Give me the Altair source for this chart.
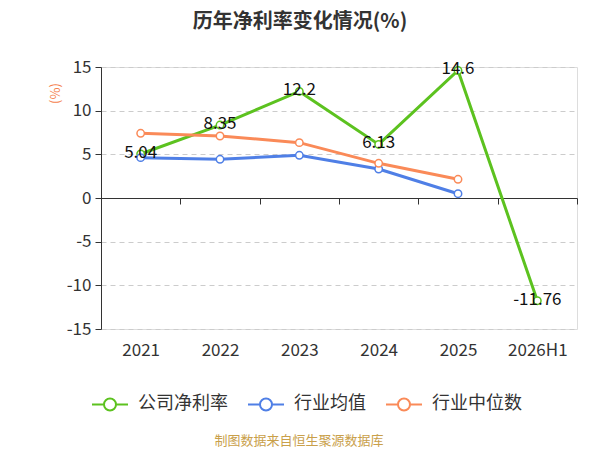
import altair as alt
import pandas as pd

years = ["2021", "2022", "2023", "2024", "2025", "2026H1"]
company = [5.04, 8.35, 12.2, 6.13, 14.6, -11.76]
company_labels = ["5.04", "8.35", "12.2", "6.13", "14.6", "-11.76"]
ind_avg = [4.62, 4.43, 4.89, 3.32, 0.49, None]
ind_median = [7.41, 7.10, 6.34, 3.97, 2.14, None]

series_names = ["公司净利率", "行业均值", "行业中位数"]
series_colors = ["#5cc21f", "#4f7fe6", "#fa8a58"]

rows = []
for name, vals in zip(series_names, [company, ind_avg, ind_median]):
    for i, (y, v) in enumerate(zip(years, vals)):
        if v is not None:
            rows.append({"year": y, "series": name, "value": v, "order": i})
df = pd.DataFrame(rows)
lab_df = pd.DataFrame({"year": years, "value": company, "label": company_labels})

FONT = "Noto Sans CJK SC"

x_enc = alt.X(
    "year:N",
    sort=years,
    scale=alt.Scale(type="band", domain=years, paddingInner=0, paddingOuter=0),
    axis=alt.Axis(
        title=None,
        orient="bottom",
        offset=-131,
        domainColor="#333333",
        tickColor="#333333",
        tickSize=6,
        tickBand="extent",
        labelPadding=138,
        labelFontSize=17,
        labelColor="#333333",
        labelFont=FONT,
        labelAngle=0,
        grid=False,
    ),
)

y_enc = alt.Y(
    "value:Q",
    scale=alt.Scale(domain=[-15, 15], nice=False, zero=False),
    axis=alt.Axis(
        values=[-15, -10, -5, 0, 5, 10, 15],
        labelExpr="datum.value + ''",
        title="(%)",
        titleColor="#f5814e",
        titleFontSize=13,
        titleFontWeight="normal",
        titleFont=FONT,
        titleX=-46,
        titleY=26,
        titleAlign="center",
        titleBaseline="middle",
        labelFontSize=17,
        labelColor="#333333",
        labelFont=FONT,
        labelPadding=4,
        tickSize=6,
        tickColor="#333333",
        domainColor="#333333",
        grid=True,
        gridColor="#cccccc",
        gridDash=[5, 4],
        gridWidth=1,
    ),
)

legend_path = "M-1,0L0.333,0M1.667,0L3,0M1.667,0A0.667,0.667,0,1,1,0.333,0A0.667,0.667,0,1,1,1.667,0"

color_enc = alt.Color(
    "series:N",
    scale=alt.Scale(domain=series_names, range=series_colors),
    legend=alt.Legend(
        title=None,
        orient="none",
        direction="horizontal",
        legendX=-10,
        legendY=327,
        symbolType=legend_path,
        symbolSize=324,
        symbolStrokeWidth=2,
        symbolFillColor="white",
        labelOffset=27,
        labelFontSize=18,
        labelFont=FONT,
        labelColor="#333333",
        columnPadding=16,
        padding=0,
    ),
)

lines = alt.Chart(df).mark_line(
    strokeWidth=3,
    point=alt.OverlayMarkDef(filled=False, fill="white", size=55, strokeWidth=1.5),
).encode(
    x=x_enc,
    y=y_enc,
    color=color_enc,
    order="order:Q",
)

labels = alt.Chart(lab_df).mark_text(
    fontSize=17, font=FONT, color="#111111", align="center", baseline="middle", dy=-1
).encode(
    x=alt.X("year:N", sort=years),
    y=alt.Y("value:Q"),
    text="label:N",
)

source = alt.Chart(pd.DataFrame({"t": ["制图数据来自恒生聚源数据库"]})).mark_text(
    fontSize=13, font=FONT, color="#c9a04a", align="center", baseline="middle"
).encode(
    x=alt.value(198),
    y=alt.value(374),
    text="t:N",
)

chart = alt.layer(lines, labels, source).properties(
    width=476,
    height=262,
    title=alt.TitleParams(
        text="历年净利率变化情况(%)",
        font=FONT,
        fontSize=20,
        fontWeight="bold",
        color="#333333",
        anchor="middle",
        dx=-39,
        dy=-22,
    ),
    autosize=alt.AutoSizeParams(type="none"),
    padding={"left": 93, "top": 59, "right": 15, "bottom": 125},
).configure_view(stroke=None).configure(background="white")

chart.save("out.html", embed_options={"renderer": "svg", "actions": False})
